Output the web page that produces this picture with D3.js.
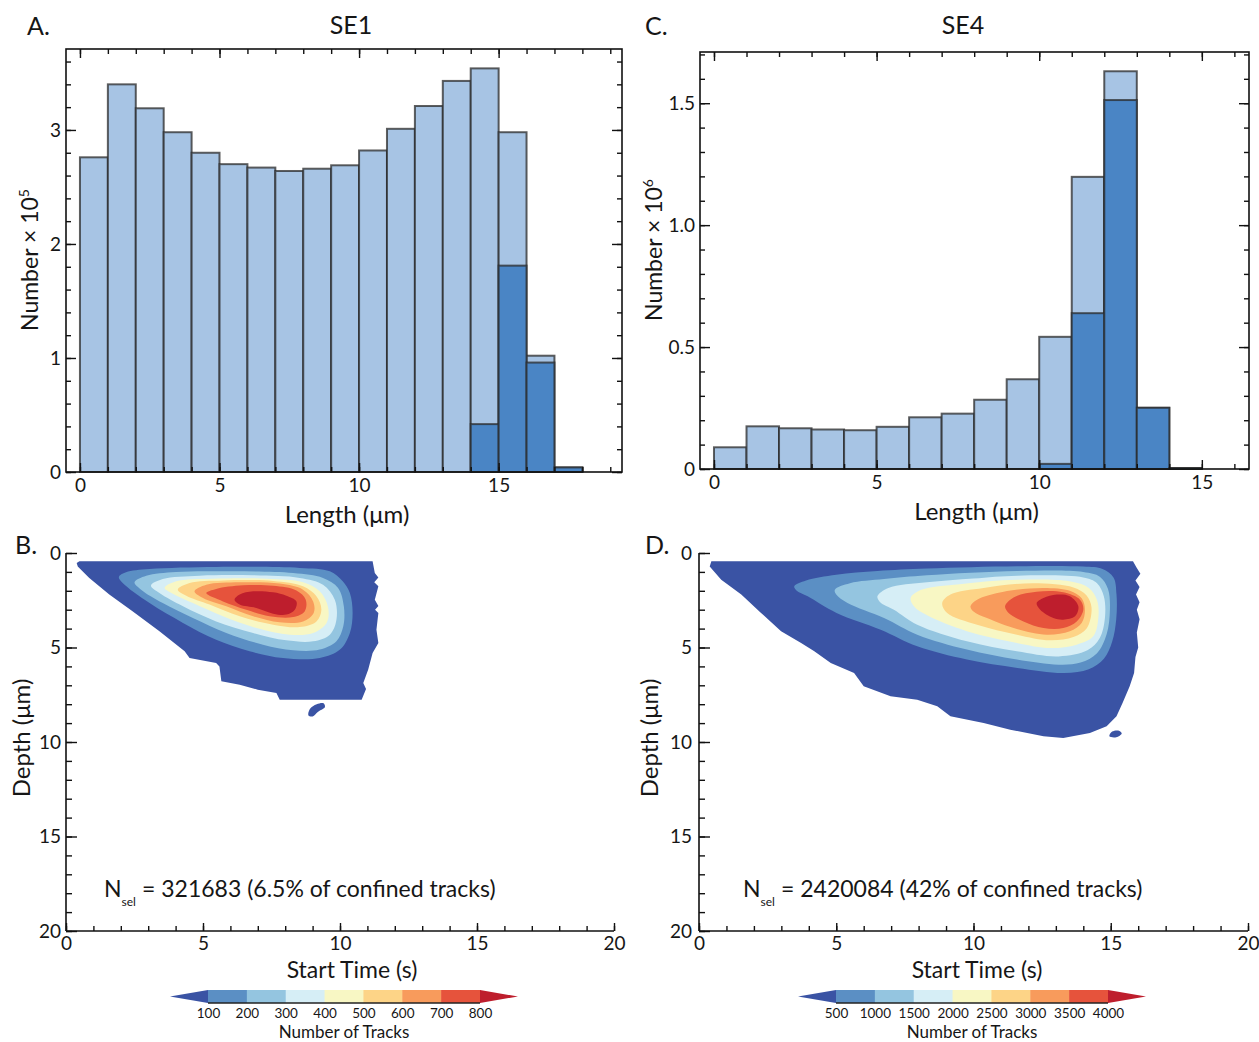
<!DOCTYPE html>
<html>
<head>
<meta charset="utf-8">
<script src="https://cdn.jsdelivr.net/npm/d3@7"></script>
<style>
    body { margin: 0; background: #fff; }
    text { font-family: Lato, "Open Sans", sans-serif; fill: #161616; }
</style>
</head>
<body>
<svg id="fig" width="1259" height="1042"></svg>
<script>

// ---------- histogram data: Number per 1 µm length bin ----------
var binWidth = 1;
var binStartSE1 = [0, 1, 2, 3, 4, 5, 6, 7, 8, 9, 10, 11, 12, 13, 14, 15, 16, 17];
// x 10^5, all confined tracks
var allTracksSE1 = [2.76, 3.40, 3.19, 2.98, 2.80, 2.70, 2.67, 2.64, 2.66, 2.69, 2.82, 3.01, 3.21, 3.43, 3.54, 2.98, 1.02, 0.04];
// x 10^5, selected tracks
var selTracksSE1 = [0, 0, 0, 0, 0, 0, 0, 0, 0, 0, 0, 0, 0, 0, 0.42, 1.81, 0.96, 0.04];

var binStartSE4 = [0, 1, 2, 3, 4, 5, 6, 7, 8, 9, 10, 11, 12, 13, 14];
// x 10^6
var allTracksSE4 = [0.089, 0.175, 0.167, 0.162, 0.159, 0.173, 0.212, 0.227, 0.284, 0.368, 0.542, 1.198, 1.631, 0.251, 0.004];
var selTracksSE4 = [0, 0, 0, 0, 0, 0, 0, 0, 0, 0, 0.021, 0.639, 1.513, 0.251, 0.004];

var histXTicks = [0, 5, 10, 15];
var yTicksSE1 = [0, 1, 2, 3];
var yTicksSE4 = [0, 0.5, 1.0, 1.5];

// ---------- contour data: band outlines in (start time s, depth µm) ----------
var depthTicks = [0, 5, 10, 15, 20];
var timeTicks = [0, 5, 10, 15, 20];
var levelsSE1 = [100, 200, 300, 400, 500, 600, 700, 800];
var levelsSE4 = [500, 1000, 1500, 2000, 2500, 3000, 3500, 4000];
var bandColors = ["#3a53a4", "#5b8fc4", "#94c5e0", "#d6eef6", "#f8f7c4", "#fdd487", "#f89b5c", "#e6533c", "#be1e2d"];

// ring 0 = extent of tracks (below lowest level), ring k = outline of level k
var bandsSE1 = [
    [[0.49,0.44],[11.19,0.44],[11.27,1.06],[11.4,1.3],[11.25,1.55],[11.4,1.76],[11.27,2.47],[11.4,2.8],[11.28,3.0],[11.4,3.17],[11.33,4.06],[11.4,4.76],[11.19,5.29],[11.03,6.17],[10.85,6.88],[10.95,7.2],[10.79,7.76],[7.8,7.76],[7.68,7.41],[7.0,7.23],[6.34,6.97],[5.67,6.79],[5.6,6.0],[5.48,5.82],[4.51,5.56],[4.33,5.2],[3.41,4.14],[2.44,3.09],[1.58,2.2],[0.85,1.32],[0.43,0.71],[0.39,0.53]],
    [[1.93,1.27],[2.19,1.02],[3.05,0.85],[5.48,0.74],[8.53,0.79],[9.63,0.97],[10.1,1.5],[10.36,2.12],[10.46,3.17],[10.36,4.23],[10.0,5.11],[9.26,5.56],[7.92,5.56],[6.7,5.2],[5.48,4.59],[4.27,3.7],[3.05,2.65],[2.07,1.59]],
    [[2.5,1.55],[2.93,1.2],[4.02,1.0],[6.09,0.97],[8.29,1.06],[9.38,1.32],[9.93,1.85],[10.14,2.82],[10.12,3.88],[9.87,4.67],[9.26,5.11],[8.29,5.15],[7.19,4.85],[5.85,4.23],[4.63,3.44],[3.53,2.65],[2.74,1.94]],
    [[3.1,1.73],[3.53,1.38],[4.88,1.2],[6.83,1.18],[8.53,1.32],[9.38,1.68],[9.81,2.47],[9.87,3.53],[9.63,4.32],[9.02,4.67],[8.04,4.62],[6.83,4.23],[5.48,3.62],[4.27,2.82],[3.41,2.12]],
    [[3.6,1.85],[4.02,1.5],[5.36,1.36],[7.31,1.36],[8.65,1.55],[9.26,2.03],[9.57,2.91],[9.51,3.7],[9.02,4.23],[8.17,4.32],[6.95,3.97],[5.73,3.35],[4.63,2.65],[3.9,2.15]],
    [[4.08,1.94],[4.51,1.59],[5.73,1.45],[7.56,1.48],[8.65,1.76],[9.14,2.29],[9.32,3.0],[9.14,3.62],[8.53,3.92],[7.56,3.79],[6.34,3.35],[5.24,2.73],[4.39,2.26]],
    [[4.69,2.03],[5.12,1.68],[6.34,1.55],[7.8,1.62],[8.65,1.94],[9.02,2.56],[9.04,3.17],[8.65,3.62],[7.8,3.67],[6.83,3.35],[5.85,2.82],[5.0,2.38]],
    [[5.12,2.12],[5.48,1.9],[6.46,1.71],[7.56,1.73],[8.41,1.98],[8.75,2.47],[8.71,3.09],[8.29,3.39],[7.43,3.35],[6.58,3.0],[5.73,2.56]],
    [[6.15,2.47],[6.34,2.2],[6.83,2.03],[7.56,2.08],[8.04,2.26],[8.41,2.56],[8.35,3.0],[8.04,3.26],[7.56,3.21],[6.95,2.91],[6.34,2.73]]
];
var islandsSE1 = [
    [[8.85,8.6],[8.9,8.25],[9.15,8.0],[9.4,7.95],[9.45,8.15],[9.2,8.4],[9.0,8.65]]
];

var bandsSE4 = [
    [[0.45,0.44],[15.81,0.44],[15.95,0.8],[16.08,1.1],[15.9,1.45],[16.05,1.8],[15.92,2.2],[16.05,2.6],[15.95,3.0],[16.05,3.5],[15.95,4.2],[16.0,5.0],[15.9,5.5],[15.85,6.35],[15.69,7.05],[15.43,7.94],[15.21,8.64],[14.85,9.17],[14.24,9.52],[13.27,9.79],[12.55,9.7],[11.34,9.35],[10.37,9.0],[9.16,8.64],[8.68,8.11],[7.95,7.76],[6.98,7.58],[6.0,7.05],[5.65,6.35],[4.8,5.82],[4.2,5.2],[3.72,4.76],[2.99,4.14],[2.26,3.17],[1.54,2.2],[0.81,1.41],[0.39,0.71]],
    [[3.47,1.76],[3.9,1.45],[5.0,1.15],[6.5,0.95],[8.3,0.82],[11.6,0.7],[14.0,0.72],[14.7,0.85],[15.1,1.3],[15.21,2.2],[15.2,3.5],[15.05,4.7],[14.75,5.6],[14.2,6.15],[13.3,6.35],[11.6,6.08],[9.76,5.64],[7.95,4.94],[6.62,4.06],[5.01,3.17],[3.96,2.29],[3.55,1.98]],
    [[4.95,1.94],[5.5,1.6],[6.74,1.38],[8.3,1.18],[11.6,0.95],[14.0,1.0],[14.6,1.25],[14.9,1.9],[14.97,3.0],[14.85,4.3],[14.5,5.3],[13.9,5.8],[13.1,5.91],[11.58,5.64],[9.76,5.11],[7.95,4.32],[6.74,3.44],[5.41,2.65],[5.0,2.2]],
    [[6.5,2.29],[6.9,1.85],[8.3,1.55],[10.0,1.35],[11.6,1.2],[14.0,1.3],[14.5,1.6],[14.75,2.3],[14.79,3.4],[14.6,4.5],[14.15,5.15],[13.1,5.47],[11.58,5.2],[9.76,4.67],[7.95,3.79],[7.1,3.0],[6.6,2.6]],
    [[7.71,2.38],[8.1,1.95],[9.5,1.65],[11.6,1.42],[13.5,1.5],[14.2,1.85],[14.5,2.5],[14.55,3.4],[14.36,4.41],[13.76,4.85],[12.79,5.03],[11.58,4.76],[9.76,4.14],[8.31,3.3],[7.83,2.82]],
    [[8.86,2.65],[9.16,2.2],[10.37,1.85],[12.18,1.6],[13.64,1.82],[14.12,2.25],[14.3,2.9],[14.12,4.0],[13.64,4.45],[12.79,4.62],[11.58,4.32],[10.13,3.79],[9.04,3.17]],
    [[9.89,2.82],[10.13,2.47],[11.1,2.05],[12.55,1.85],[13.51,2.0],[13.94,2.4],[14.06,3.0],[13.94,3.7],[13.51,4.14],[12.67,4.32],[11.58,4.02],[10.49,3.44],[10.0,3.09]],
    [[11.15,2.82],[11.46,2.35],[12.3,2.05],[13.27,2.08],[13.88,2.47],[14.0,3.0],[13.76,3.62],[13.27,3.97],[12.55,3.97],[11.82,3.62],[11.28,3.17]],
    [[12.3,2.65],[12.55,2.38],[13.03,2.2],[13.51,2.29],[13.82,2.82],[13.7,3.35],[13.27,3.53],[12.91,3.44],[12.43,3.0]]
];
var islandsSE4 = [
    [[14.95,9.7],[15.05,9.45],[15.3,9.4],[15.4,9.55],[15.2,9.75]]
];

var lightBlue = "#a7c4e4";
var darkBlue = "#4a85c5";

var svg = d3.select("#fig");

// generic inward-tick axis
function addAxis(parent, orient, scale, pos, values, size, labelFmt, pad, fontSize) {
    var maker = {bottom: d3.axisBottom, top: d3.axisTop, left: d3.axisLeft, right: d3.axisRight}[orient];
    var axis = maker(scale).tickValues(values).tickSize(-size).tickSizeOuter(0).tickPadding(pad);
    axis.tickFormat(labelFmt ? labelFmt : "");
    var tr = (orient === "bottom" || orient === "top") ? "translate(0," + pos + ")" : "translate(" + pos + ",0)";
    var g = parent.append("g").attr("transform", tr).call(axis);
    g.select(".domain").remove();
    g.selectAll("line").attr("stroke", "#111").attr("stroke-width", 1.4);
    g.selectAll("text").style("font-size", fontSize + "px");
    return g;
}

function intRange(a, b, step) {
    var out = [];
    for (var v = a; v <= b + 1e-9; v += step) out.push(Math.round(v * 100) / 100);
    return out;
}

// ---------------- histogram panel ----------------
HistChart = function(cfg) {
    this.cfg = cfg;
    this.initVis();
};

HistChart.prototype.initVis = function() {
    var vis = this, c = vis.cfg;

    vis.x = d3.scaleLinear().domain(c.xDomain).range([c.left, c.right]);
    vis.y = d3.scaleLinear().domain(c.yDomain).range([c.bottom, c.top]);
    vis.g = svg.append("g");

    vis.drawBars(c.all, lightBlue);
    vis.drawBars(c.sel, darkBlue);
    vis.drawAxes();
};

HistChart.prototype.drawBars = function(values, color) {
    var vis = this, c = vis.cfg;
    var rows = values.map(function(v, i) { return {x0: c.bins[i], v: v}; })
        .filter(function(d) { return d.v > 0; });

    vis.g.append("g").selectAll("rect")
        .data(rows)
        .enter().append("rect")
        .attr("x", function(d) { return vis.x(d.x0); })
        .attr("width", function(d) { return vis.x(d.x0 + binWidth) - vis.x(d.x0); })
        .attr("y", function(d) { return vis.y(d.v); })
        .attr("height", function(d) { return vis.y(0) - vis.y(d.v); })
        .attr("fill", color)
        .attr("stroke", "#2a2a2a")
        .attr("stroke-opacity", 0.75)
        .attr("stroke-width", 2);
};

HistChart.prototype.drawAxes = function() {
    var vis = this, c = vis.cfg;
    var minorX = intRange(0, Math.floor(c.xDomain[1]), 1);
    var minorY = intRange(0, c.yDomain[1], c.yMinor);

    addAxis(vis.g, "bottom", vis.x, c.bottom, minorX, 5, null, 0, 10);
    addAxis(vis.g, "top", vis.x, c.top, minorX, 5, null, 0, 10);
    addAxis(vis.g, "bottom", vis.x, c.bottom, histXTicks, 9, function(d) { return d; }, 7, 19);
    addAxis(vis.g, "top", vis.x, c.top, histXTicks, 9, null, 0, 10);

    addAxis(vis.g, "left", vis.y, c.left, minorY, 5, null, 0, 10);
    addAxis(vis.g, "right", vis.y, c.right, minorY, 5, null, 0, 10);
    addAxis(vis.g, "left", vis.y, c.left, c.yTicks, 10, c.yFmt, 5, 19);
    addAxis(vis.g, "right", vis.y, c.right, c.yTicks, 10, null, 0, 10);

    vis.g.append("rect")
        .attr("x", c.left).attr("y", c.top)
        .attr("width", c.right - c.left).attr("height", c.bottom - c.top)
        .attr("fill", "none").attr("stroke", "#111").attr("stroke-width", 1.6);

    vis.g.append("text")
        .attr("x", (c.left + c.right) / 2 + c.xLabelShift).attr("y", c.bottom + 51)
        .attr("text-anchor", "middle").style("font-size", "24px")
        .text("Length (\u03bcm)");

    var yl = vis.g.append("text")
        .attr("transform", "translate(" + c.yLabelX + "," + c.yLabelY + ") rotate(-90)")
        .attr("text-anchor", "middle").style("font-size", "23px");
    yl.append("tspan").text("Number \u00d7 10");
    yl.append("tspan").attr("dy", -9).style("font-size", "14px").text(c.power);

    vis.g.append("text").attr("x", c.titleX).attr("y", 34)
        .attr("text-anchor", "middle").style("font-size", "25px").text(c.title);
    vis.g.append("text").attr("x", c.letterX).attr("y", 35)
        .style("font-size", "25px").text(c.letter);
};

// ---------------- contour panel ----------------
ContourChart = function(cfg) {
    this.cfg = cfg;
    this.initVis();
};

ContourChart.prototype.initVis = function() {
    var vis = this, c = vis.cfg;

    vis.x = d3.scaleLinear().domain([0, 20]).range([c.left, c.right]);
    vis.y = d3.scaleLinear().domain([0, 20]).range([c.top, c.bottom]);
    vis.g = svg.append("g");

    var outline = d3.line()
        .x(function(p) { return vis.x(p[0]); })
        .y(function(p) { return vis.y(p[1]); })
        .curve(d3.curveLinearClosed);
    var smooth = d3.line()
        .x(function(p) { return vis.x(p[0]); })
        .y(function(p) { return vis.y(p[1]); })
        .curve(d3.curveCatmullRomClosed.alpha(0.5));

    c.bands.forEach(function(ring, i) {
        vis.g.append("path")
            .attr("d", (i === 0 ? outline : smooth)(ring))
            .attr("fill", bandColors[i]);
    });
    c.islands.forEach(function(ring) {
        vis.g.append("path").attr("d", smooth(ring)).attr("fill", bandColors[0]);
    });

    vis.drawAxes();
    vis.drawColorbar();
};

ContourChart.prototype.drawAxes = function() {
    var vis = this, c = vis.cfg;
    var minor = intRange(0, 20, 1);

    vis.g.append("line").attr("x1", c.left).attr("x2", c.left)
        .attr("y1", c.top).attr("y2", c.bottom).attr("stroke", "#111").attr("stroke-width", 1.6);
    vis.g.append("line").attr("x1", c.left).attr("x2", c.right)
        .attr("y1", c.bottom).attr("y2", c.bottom).attr("stroke", "#111").attr("stroke-width", 1.6);

    addAxis(vis.g, "left", vis.y, c.left, minor, 6, null, 0, 10);
    addAxis(vis.g, "left", vis.y, c.left, depthTicks, 11, function(d) { return d; }, c.yPad, 19);
    addAxis(vis.g, "bottom", vis.x, c.bottom, minor, 5, null, 0, 10);
    addAxis(vis.g, "bottom", vis.x, c.bottom, timeTicks, 8, function(d) { return d; }, 6, 19);

    vis.g.append("text")
        .attr("transform", "translate(" + c.yLabelX + ",738) rotate(-90)")
        .attr("text-anchor", "middle").style("font-size", "24px")
        .text("Depth (\u03bcm)");

    vis.g.append("text")
        .attr("x", c.xLabelX).attr("y", 978)
        .attr("text-anchor", "middle").style("font-size", "23px")
        .text("Start Time (s)");

    vis.g.append("text").attr("x", c.letterX).attr("y", 554)
        .style("font-size", "25px").text(c.letter);

    var n = vis.g.append("text").attr("x", c.nX).attr("y", 897).style("font-size", "23px");
    n.append("tspan").text("N");
    n.append("tspan").attr("dy", 9).style("font-size", "12px").text("sel");
    n.append("tspan").attr("x", c.nX + 38).attr("dy", -9).text("= " + c.note);
};

ContourChart.prototype.drawColorbar = function() {
    var vis = this, c = vis.cfg;
    var lv = c.levels;
    var cx = d3.scaleLinear().domain([lv[0], lv[lv.length - 1]]).range([c.cbLeft, c.cbRight]);
    var top = 990, bot = 1003, mid = (top + bot) / 2, arrow = 38;
    var cb = vis.g.append("g");

    cb.selectAll("rect")
        .data(lv.slice(0, -1))
        .enter().append("rect")
        .attr("x", function(d) { return cx(d); })
        .attr("width", function(d, i) { return cx(lv[i + 1]) - cx(d) + 0.5; })
        .attr("y", top).attr("height", bot - top)
        .attr("fill", function(d, i) { return bandColors[i + 1]; });

    cb.append("path")
        .attr("d", "M" + cx(lv[0]) + "," + top + "L" + (cx(lv[0]) - arrow) + "," + mid + "L" + cx(lv[0]) + "," + bot + "Z")
        .attr("fill", bandColors[0]);
    cb.append("path")
        .attr("d", "M" + cx(lv[lv.length - 1]) + "," + top + "L" + (cx(lv[lv.length - 1]) + arrow) + "," + mid + "L" + cx(lv[lv.length - 1]) + "," + bot + "Z")
        .attr("fill", bandColors[8]);
    cb.append("line")
        .attr("x1", cx(lv[0])).attr("x2", cx(lv[lv.length - 1]))
        .attr("y1", bot).attr("y2", bot)
        .attr("stroke", "#222").attr("stroke-width", 1.4);

    var ax = cb.append("g").attr("transform", "translate(0," + bot + ")")
        .call(d3.axisBottom(cx).tickValues(lv).tickSize(0).tickPadding(5).tickFormat(function(d) { return d; }));
    ax.select(".domain").remove();
    ax.selectAll("text").style("font-size", "13.5px");

    cb.append("text")
        .attr("x", (cx(lv[0]) + cx(lv[lv.length - 1])) / 2).attr("y", 1038)
        .attr("text-anchor", "middle").style("font-size", "17px")
        .text("Number of Tracks");
};

// ---------------- build the figure ----------------
new HistChart({
    bins: binStartSE1, all: allTracksSE1, sel: selTracksSE1,
    xDomain: [-0.5, 19.42], yDomain: [0, 3.71],
    left: 66, right: 622, top: 49, bottom: 472,
    yTicks: yTicksSE1, yMinor: 0.2, yFmt: function(d) { return d; },
    power: "5", title: "SE1", titleX: 351, letter: "A.", letterX: 27,
    yLabelX: 38, yLabelY: 260, xLabelShift: 3
});

new HistChart({
    bins: binStartSE4, all: allTracksSE4, sel: selTracksSE4,
    xDomain: [-0.43, 16.45], yDomain: [0, 1.71],
    left: 700, right: 1249, top: 52, bottom: 469,
    yTicks: yTicksSE4, yMinor: 0.1, yFmt: function(d) { return d === 0 ? "0" : d3.format(".1f")(d); },
    power: "6", title: "SE4", titleX: 963, letter: "C.", letterX: 645,
    yLabelX: 662, yLabelY: 250, xLabelShift: 2
});

new ContourChart({
    bands: bandsSE1, islands: islandsSE1, levels: levelsSE1,
    left: 66, right: 614, top: 553, bottom: 931,
    yPad: 5, yLabelX: 30, xLabelX: 352, letter: "B.", letterX: 15,
    nX: 104, note: "321683 (6.5% of confined tracks)",
    cbLeft: 208, cbRight: 480
});

new ContourChart({
    bands: bandsSE4, islands: islandsSE4, levels: levelsSE4,
    left: 699, right: 1248, top: 553, bottom: 931,
    yPad: 7, yLabelX: 658, xLabelX: 977, letter: "D.", letterX: 645,
    nX: 743, note: "2420084 (42% of confined tracks)",
    cbLeft: 836, cbRight: 1108
});

</script>
</body>
</html>
